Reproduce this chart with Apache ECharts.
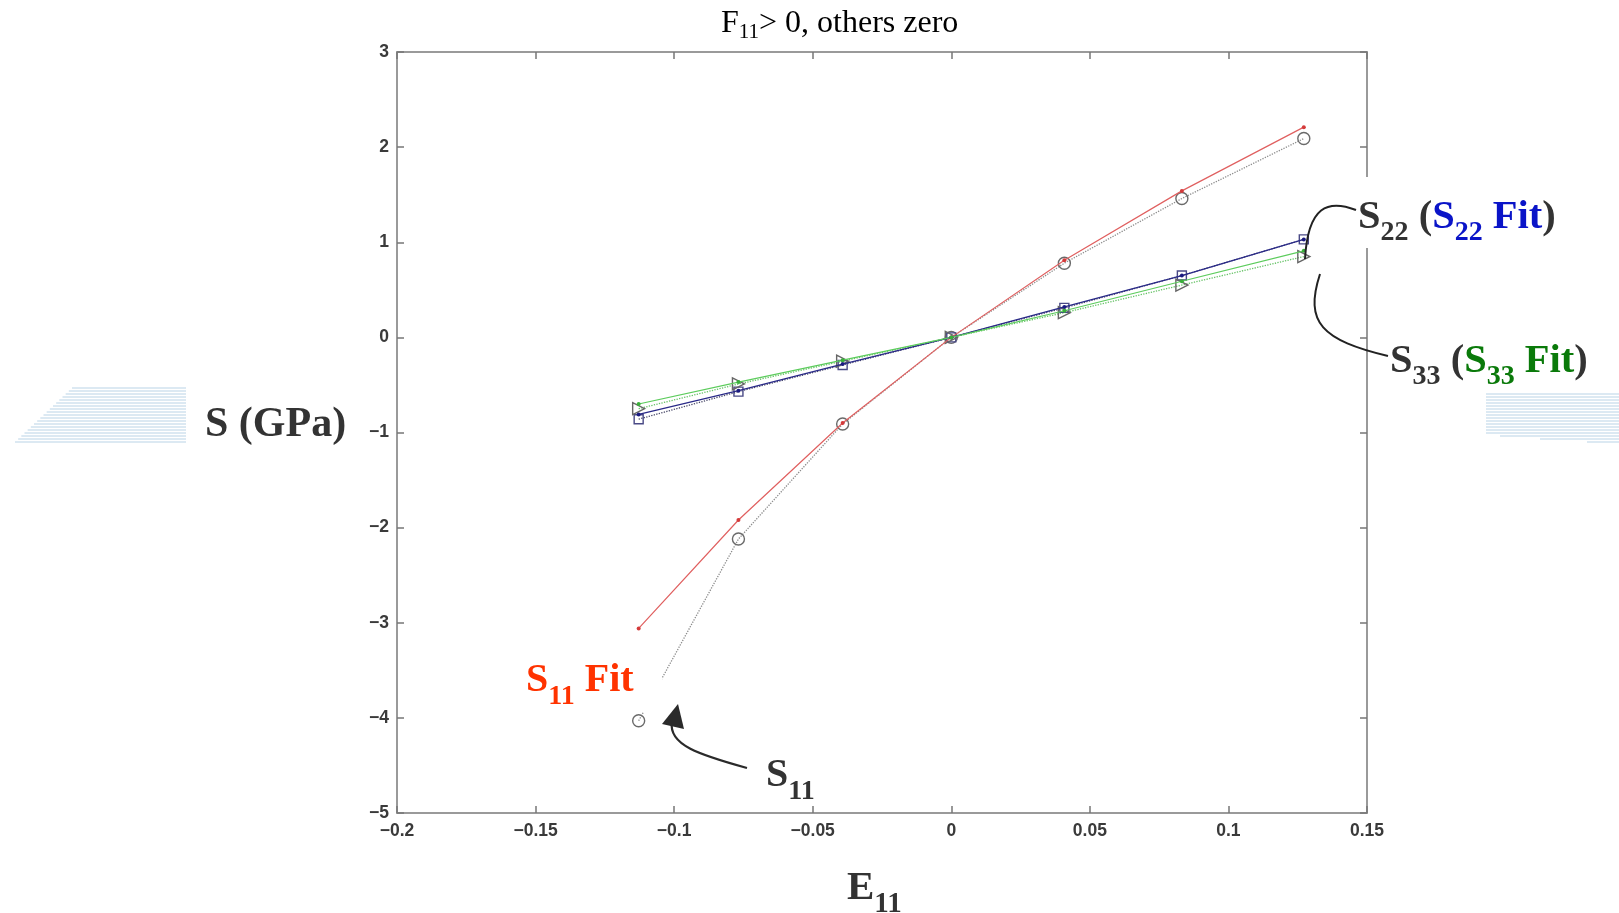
<!DOCTYPE html>
<html>
<head>
<meta charset="utf-8">
<script src="https://cdn.jsdelivr.net/npm/echarts@6/dist/echarts.min.js"></script>
<style>
  html, body { margin: 0; padding: 0; background: #fff; }
  #chart { width: 1619px; height: 913px; }
</style>
</head>
<body>
<div id="chart"></div>
<script>
// ---- data ----
const E11 = [-0.1128, -0.0768, -0.0392, 0, 0.0408, 0.0832, 0.1272];
const S11 = [-4.03, -2.12, -0.91, 0, 0.78, 1.46, 2.09];
const S11_fit = [-3.06, -1.92, -0.90, 0, 0.81, 1.54, 2.21];
const S22 = [-0.86, -0.57, -0.29, 0, 0.31, 0.65, 1.03];
const S22_fit = [-0.81, -0.56, -0.28, 0, 0.32, 0.65, 1.03];
const S33 = [-0.75, -0.49, -0.25, 0, 0.26, 0.55, 0.85];
const S33_fit = [-0.70, -0.47, -0.24, 0, 0.28, 0.59, 0.91];
const xRange = [-0.2, 0.15];
const xStep = 0.05;
const yRange = [-5, 3];
const yStep = 1;

const pairs = (ys) => E11.map((x, i) => [x, ys[i]]);
const fmt = (v) => {
  const n = parseFloat(Number(v).toFixed(2));
  return String(n).replace('-', '\u2212');
};

const chart = echarts.init(document.getElementById('chart'), null, { renderer: 'canvas' });

const axisLine = { show: true, onZero: false, lineStyle: { color: '#9a9a9a', width: 2 } };
const axisTick = { show: true, inside: true, length: 7, lineStyle: { color: '#777', width: 1.5 } };
const tickFont = { color: '#3a3a3a', fontSize: 17.5, fontWeight: 'bold', fontFamily: 'Liberation Sans, Arial, sans-serif', formatter: fmt };

function xAx(pos, showLabel) {
  return {
    type: 'value', position: pos, min: xRange[0], max: xRange[1], interval: xStep,
    axisLine, axisTick, splitLine: { show: false },
    axisLabel: Object.assign({ show: showLabel, margin: 9 }, tickFont)
  };
}
function yAx(pos, showLabel) {
  return {
    type: 'value', position: pos, min: yRange[0], max: yRange[1], interval: yStep,
    axisLine, axisTick, splitLine: { show: false },
    axisLabel: Object.assign({ show: showLabel, margin: 8 }, tickFont)
  };
}

const hollow = (c) => ({ color: 'rgba(255,255,255,0)', borderColor: c, borderWidth: 1.4 });

// ---- decoration / annotation helpers ----
const serif = 'Liberation Serif, Times New Roman, serif';
function richLabel(id, x, y, parts, size, subSize, subPad, weight, color) {
  const rich = {};
  let txt = '';
  parts.forEach((p, i) => {
    const key = 't' + i;
    const isSub = p.sub;
    rich[key] = {
      fontFamily: serif, fontWeight: weight,
      fontSize: isSub ? subSize : size,
      lineHeight: isSub ? subSize : size + 6,
      verticalAlign: 'top',
      padding: isSub ? [subPad, 0, 0, 0] : [0, 0, 0, 0],
      fill: p.color || color, color: p.color || color
    };
    txt += '{' + key + '|' + p.t + '}';
  });
  return {
    type: 'text', id, x, y, z: 100,
    style: { text: txt, rich, fill: color, textVerticalAlign: 'top', textAlign: 'left', verticalAlign: 'top', align: 'left' }
  };
}

const graphics = [];
// stripes (left decorative block)
for (let i = 0; i < 19; i++) {
  const y = 388 + i * 3;
  const x0 = 72 - (i / 18) * 57;
  graphics.push({ type: 'line', z: 1, shape: { x1: x0, y1: y, x2: 186, y2: y },
    style: { stroke: '#b9d3e6', lineWidth: 1 } });
}
// stripes (right decorative block)
for (let i = 0; i < 17; i++) {
  const y = 394 + i * 3;
  const x0 = i < 14 ? 1486 : (i === 14 ? 1500 : (i === 15 ? 1540 : 1587));
  graphics.push({ type: 'line', z: 1, shape: { x1: x0, y1: y, x2: 1619, y2: y },
    style: { stroke: '#b9d3e6', lineWidth: 1 } });
}
// white patches behind labels
graphics.push({ type: 'rect', z: 50, shape: { x: 1358, y: 177, width: 16, height: 71 }, style: { fill: '#fff' } });
graphics.push({ type: 'rect', z: 50, shape: { x: 522, y: 654, width: 140, height: 58 }, style: { fill: '#fff' } });

// connectors
graphics.push({ type: 'bezierCurve', z: 90,
  shape: { x1: 1356, y1: 210, cpx1: 1328, cpy1: 199, cpx2: 1308, cpy2: 206, x2: 1305, y2: 259 },
  style: { stroke: '#222', lineWidth: 2, fill: null } });
graphics.push({ type: 'bezierCurve', z: 90,
  shape: { x1: 1320, y1: 274, cpx1: 1304, cpy1: 323, cpx2: 1322, cpy2: 340, x2: 1388, y2: 356 },
  style: { stroke: '#222', lineWidth: 2, fill: null } });
// arrow to S11
graphics.push({ type: 'bezierCurve', z: 90,
  shape: { x1: 747, y1: 768, cpx1: 700, cpy1: 755, cpx2: 668, cpy2: 745, x2: 672, y2: 722 },
  style: { stroke: '#2a2a2a', lineWidth: 2.2, fill: null } });
graphics.push({ type: 'polygon', z: 91,
  shape: { points: [[678, 704], [662, 724], [684, 729]] },
  style: { fill: '#2a2a2a' } });

// text labels
graphics.push(richLabel('title', 721, 8,
  [{ t: 'F' }, { t: '11', sub: true }, { t: '> 0, others zero' }], 32, 21, 14, 'normal', '#000'));
graphics.push(richLabel('ylab', 205, 404, [{ t: 'S (GPa)' }], 42, 28, 22, 'bold', '#333'));
graphics.push(richLabel('xlab', 847, 868, [{ t: 'E' }, { t: '11', sub: true }], 41, 29, 22, 'bold', '#333'));
graphics.push(richLabel('s11fit', 526, 661,
  [{ t: 'S' }, { t: '11', sub: true }, { t: ' Fit' }], 40, 28, 22, 'bold', '#ff3300'));
graphics.push(richLabel('s11', 766, 756, [{ t: 'S' }, { t: '11', sub: true }], 40, 28, 22, 'bold', '#333'));
graphics.push(richLabel('s22', 1358, 197,
  [{ t: 'S' }, { t: '22', sub: true }, { t: ' (' }, { t: 'S', color: '#0a14c8' }, { t: '22', sub: true, color: '#0a14c8' },
   { t: ' Fit', color: '#0a14c8' }, { t: ')' }], 40.5, 28, 22, 'bold', '#333'));
graphics.push(richLabel('s33', 1390, 341,
  [{ t: 'S' }, { t: '33', sub: true }, { t: ' (' }, { t: 'S', color: '#0a7a0a' }, { t: '33', sub: true, color: '#0a7a0a' },
   { t: ' Fit', color: '#0a7a0a' }, { t: ')' }], 40.5, 28, 22, 'bold', '#333'));

const option = {
  animation: false,
  backgroundColor: '#fff',
  grid: { left: 397, right: 252, top: 52, bottom: 100, containLabel: false },
  xAxis: [xAx('bottom', true), xAx('top', false)],
  yAxis: [yAx('left', true), yAx('right', false)],
  series: [
    { name: 'S11', type: 'line', data: pairs(S11), symbol: 'circle', symbolSize: 12,
      itemStyle: hollow('#6a6a6a'), lineStyle: { color: '#8c8c8c', width: 1.3, type: 'dotted' }, z: 3 },
    { name: 'S22', type: 'line', data: pairs(S22), symbol: 'rect', symbolSize: 9,
      itemStyle: hollow('#4a4a86'), lineStyle: { color: '#4a4a6a', width: 1.3, type: 'dotted' }, z: 3 },
    { name: 'S33', type: 'line', data: pairs(S33), symbol: 'triangle', symbolSize: 12, symbolRotate: -90,
      itemStyle: hollow('#666'), lineStyle: { color: '#66c266', width: 1.3, type: 'dotted' }, z: 3 },
    { name: 'S11 Fit', type: 'line', data: pairs(S11_fit), symbol: 'circle', symbolSize: 4,
      itemStyle: { color: '#d43a3a' }, lineStyle: { color: '#e06060', width: 1.2 }, z: 4 },
    { name: 'S22 Fit', type: 'line', data: pairs(S22_fit), symbol: 'circle', symbolSize: 4,
      itemStyle: { color: '#1a1a80' }, lineStyle: { color: '#2a2a88', width: 1.3 }, z: 4 },
    { name: 'S33 Fit', type: 'line', data: pairs(S33_fit), symbol: 'circle', symbolSize: 4,
      itemStyle: { color: '#3ab03a' }, lineStyle: { color: '#5ccc5c', width: 1.2 }, z: 4 }
  ],
  graphic: { elements: graphics }
};
chart.setOption(option);
</script>
</body>
</html>
